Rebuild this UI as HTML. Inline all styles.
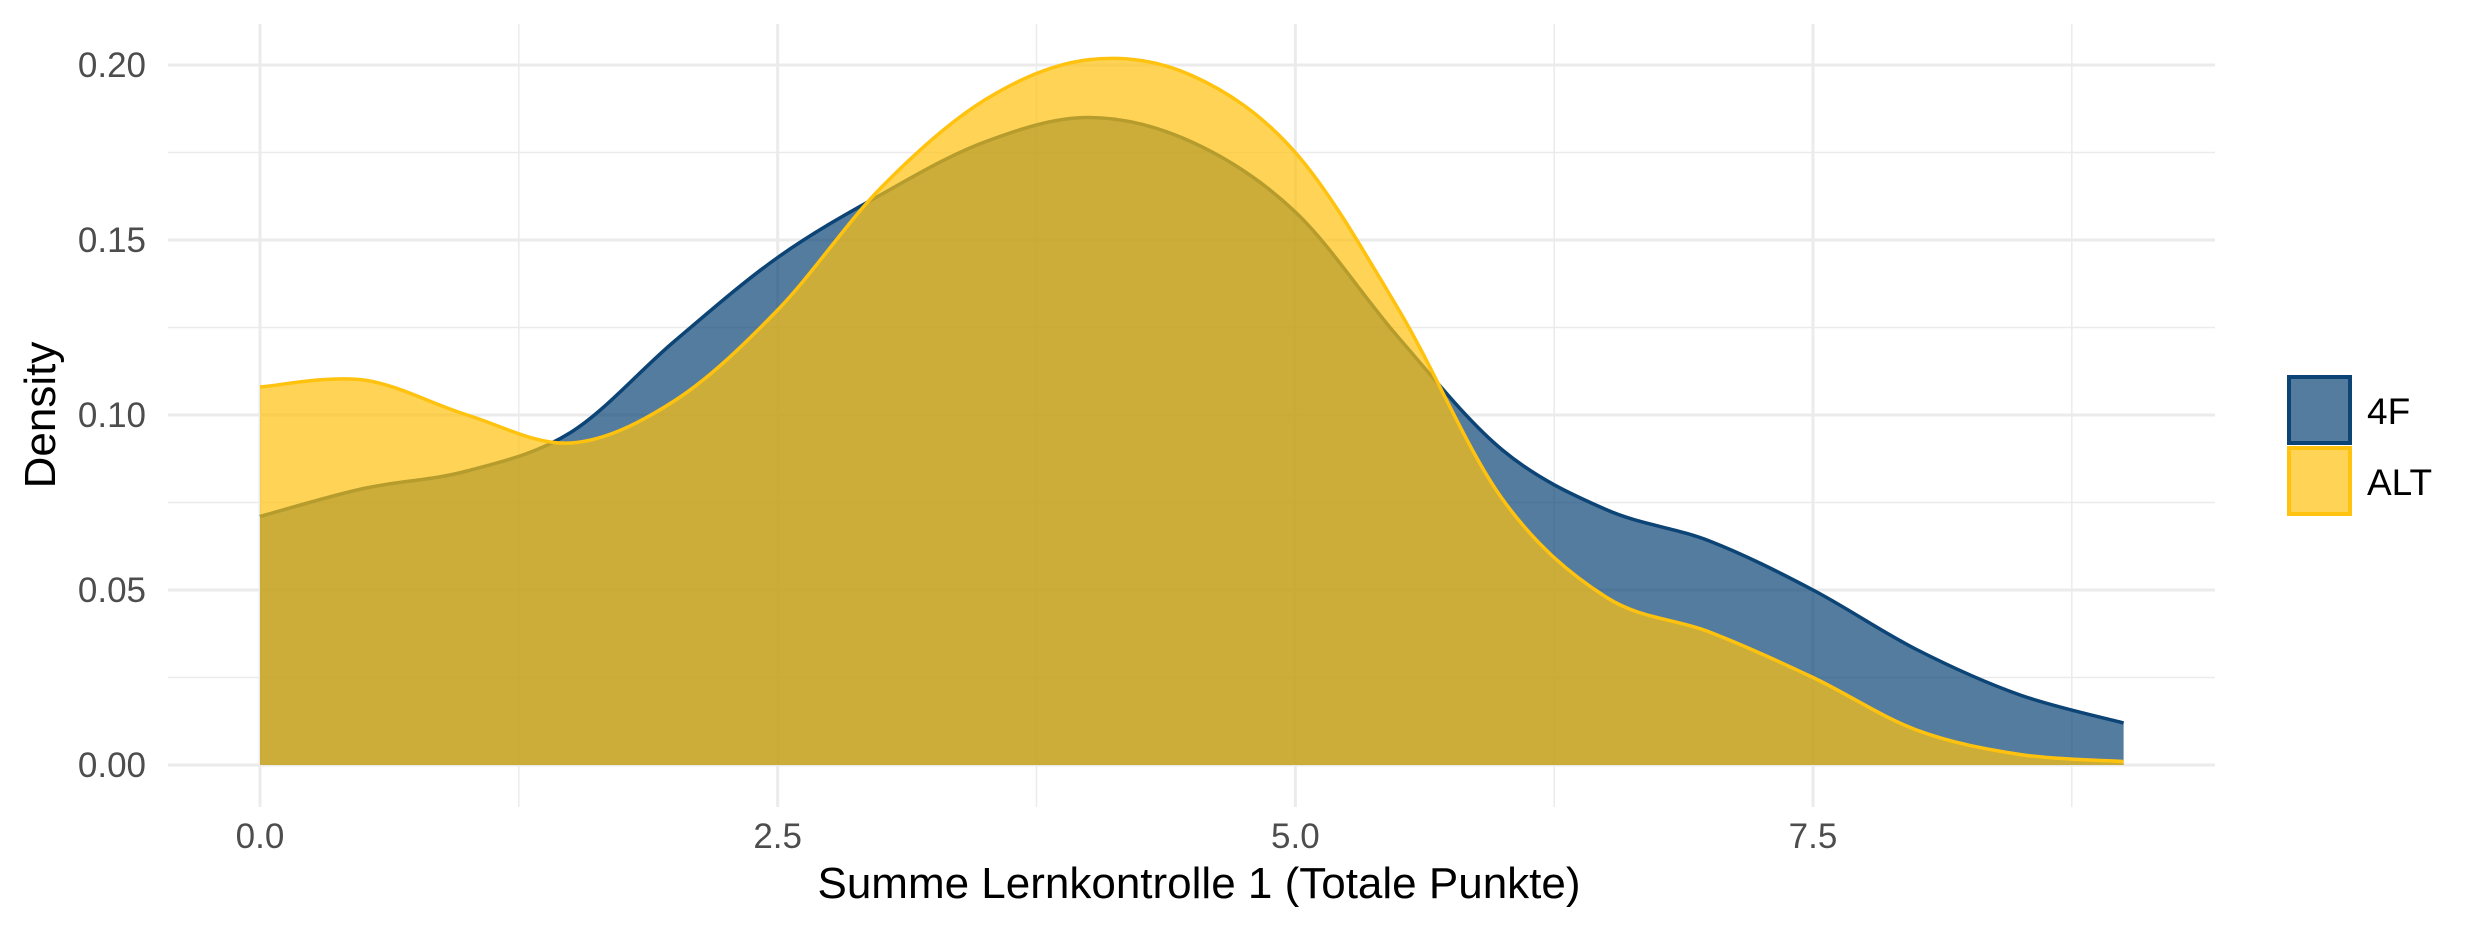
<!DOCTYPE html>
<html><head><meta charset="utf-8"><style>
html,body{margin:0;padding:0;background:#fff;}
svg{display:block;font-family:"Liberation Sans",Arial,sans-serif;}
</style></head><body>
<svg id="chart" width="2490" height="930" viewBox="0 0 2490 930">
<g id="grid"></g>
<g id="areas"></g>
<g id="axes"></g>
<text x="1199" y="898" font-size="44" text-anchor="middle" fill="#000">Summe Lernkontrolle 1 (Totale Punkte)</text>
<text transform="translate(55,415) rotate(-90)" font-size="44" text-anchor="middle" fill="#000">Density</text>
<g>
<rect x="2289" y="377" width="61" height="66" fill="#0C4476" fill-opacity="0.7" stroke="#0C4476" stroke-width="4"/>
<text x="2367" y="424" font-size="37" fill="#000">4F</text>
<rect x="2289" y="448" width="61" height="66" fill="#FFC20E" fill-opacity="0.7" stroke="#FFC20E" stroke-width="4"/>
<text x="2367" y="495" font-size="37" fill="#000">ALT</text>
</g>
</svg>
<script>
const xs = [0,0.5,1,1.5,2,2.5,3,3.5,4,4.5,5,5.5,6,6.5,7,7.5,8,8.5,9];
const series4F = [0.071,0.079,0.084,0.095,0.121,0.145,0.163,0.178,0.185,0.178,0.158,0.122,0.090,0.073,0.064,0.050,0.033,0.020,0.012];
const seriesALT = [0.108,0.110,0.100,0.092,0.104,0.130,0.165,0.190,0.2015,0.197,0.175,0.130,0.076,0.048,0.038,0.025,0.010,0.003,0.001];
const xTicks = [0,2.5,5,7.5];
const xTickLabels = ["0.0","2.5","5.0","7.5"];
const yTicks = [0,0.05,0.10,0.15,0.20];
const yTickLabels = ["0.00","0.05","0.10","0.15","0.20"];
const NS="http://www.w3.org/2000/svg";
const X=v=>260+v*(1813-260)/7.5;
const Y=v=>765-v*(765-65)/0.2;
const PL=168,PR=2215,PT=24,PB=807;
const grid=document.getElementById('grid'),areas=document.getElementById('areas'),axes=document.getElementById('axes');
function line(g,x1,y1,x2,y2,w,name){const l=document.createElementNS(NS,'line');l.setAttribute('x1',x1);l.setAttribute('y1',y1);l.setAttribute('x2',x2);l.setAttribute('y2',y2);l.setAttribute('stroke','#ebebeb');l.setAttribute('stroke-width',w);


g.appendChild(l);}
for(let i=0;i<yTicks.length;i++){line(grid,PL,Y(yTicks[i]),PR,Y(yTicks[i]),3,'y-gridline');if(i<yTicks.length-1){const m=(yTicks[i]+yTicks[i+1])/2;line(grid,PL,Y(m),PR,Y(m),1.5,'y-minor-gridline');}}
for(let i=0;i<xTicks.length;i++){line(grid,X(xTicks[i]),PT,X(xTicks[i]),PB,3,'x-gridline');const m=xTicks[i]+1.25;line(grid,X(m),PT,X(m),PB,1.5,'x-minor-gridline');}
function txt(x,y,s,anchor,name){const t=document.createElementNS(NS,'text');t.setAttribute('x',x);t.setAttribute('y',y);t.setAttribute('font-size','35');t.setAttribute('fill','#4d4d4d');t.setAttribute('text-anchor',anchor);t.textContent=s;


axes.appendChild(t);}
xTicks.forEach((v,i)=>txt(X(v),848,xTickLabels[i],'middle','x-tick-label'));
yTicks.forEach((v,i)=>txt(146,Y(v)+12,yTickLabels[i],'end','y-tick-label'));
function pathD(ys){const p=xs.map((x,i)=>[X(x),Y(ys[i])]);let d='M'+p[0][0]+','+p[0][1];
for(let i=0;i<p.length-1;i++){const p0=p[i-1]||p[i],p1=p[i],p2=p[i+1],p3=p[i+2]||p[i+1];
const c1=[p1[0]+(p2[0]-p0[0])/6,p1[1]+(p2[1]-p0[1])/6],c2=[p2[0]-(p3[0]-p1[0])/6,p2[1]-(p3[1]-p1[1])/6];
d+=` C${c1[0]},${c1[1]} ${c2[0]},${c2[1]} ${p2[0]},${p2[1]}`;}return d;}
function area(ys,color,name){const top=pathD(ys);
const f=document.createElementNS(NS,'path');f.setAttribute('d',top+` L${X(xs[xs.length-1])},${Y(0)} L${X(xs[0])},${Y(0)} Z`);f.setAttribute('fill',color);f.setAttribute('fill-opacity','0.7');


areas.appendChild(f);
const l=document.createElementNS(NS,'path');l.setAttribute('d',top);l.setAttribute('fill','none');l.setAttribute('stroke',color);l.setAttribute('stroke-width','3.5');


areas.appendChild(l);}
area(series4F,'#0C4476','series-4f');
area(seriesALT,'#FFC20E','series-alt');
</script>
</body></html>
